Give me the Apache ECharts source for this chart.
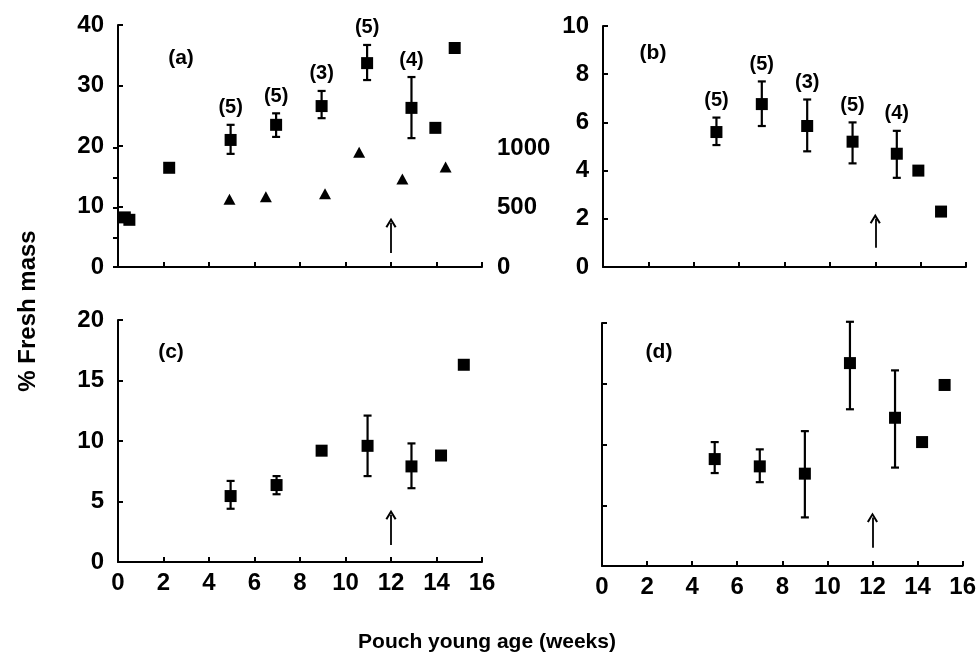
<!DOCTYPE html>
<html>
<head>
<meta charset="utf-8">
<script src="https://cdn.jsdelivr.net/npm/echarts@6/dist/echarts.min.js"></script>
<style>html,body{margin:0;padding:0;background:#fff}#c{width:979px;height:658px}</style>
</head>
<body>
<div id="c"></div>
<script>
// ---------- DATA ----------
// Panel (a): % fresh mass (squares, left axis)
const aWeeks = [0.3, 0.5, 2.25, 4.95, 6.95, 8.95, 10.95, 12.9, 13.95, 14.8];
const aMean  = [8.2, 7.8, 16.4, 21.0, 23.5, 26.6, 33.7, 26.3, 23.0, 36.2];
const aLow   = [null, null, null, 18.7, 21.5, 24.6, 30.9, 21.3, null, null];
const aHigh  = [null, null, null, 23.5, 25.4, 29.1, 36.7, 31.4, null, null];
const aN     = [null, null, null, 5, 5, 3, 5, 4, null, null];
// Panel (a): triangles (right axis, 0-1000)
const tWeeks = [4.9, 6.5, 9.1, 10.6, 12.5, 14.4];
const tVal   = [570, 590, 615, 965, 740, 840];
// Panel (b)
const bWeeks = [5.0, 7.0, 9.0, 11.0, 12.95, 13.9, 14.9];
const bMean  = [5.6, 6.76, 5.85, 5.2, 4.7, 4.0, 2.3];
const bLow   = [5.06, 5.85, 4.8, 4.3, 3.7, null, null];
const bHigh  = [6.2, 7.7, 6.95, 6.0, 5.65, null, null];
const bN     = [5, 5, 3, 5, 4, null, null];
// Panel (c)
const cWeeks = [4.95, 6.97, 8.95, 10.97, 12.9, 14.2, 15.2];
const cMean  = [5.45, 6.36, 9.2, 9.6, 7.9, 8.8, 16.3];
const cLow   = [4.4, 5.6, null, 7.1, 6.1, null, null];
const cHigh  = [6.7, 7.1, null, 12.1, 9.8, null, null];
// Panel (d) (unlabelled axis, 4 intervals)
const dWeeks = [5.0, 7.0, 9.0, 11.0, 13.0, 14.2, 15.2];
const dMean  = [8.8, 8.2, 7.6, 16.7, 12.2, 10.2, 14.9];
const dLow   = [7.65, 6.9, 4.0, 12.9, 8.1, null, null];
const dHigh  = [10.2, 9.6, 11.1, 20.1, 16.1, null, null];
// Arrows at 12 weeks: [from, to] in each panel's y units
const arrowWeek = 12;
const arrowFrom = [2.3, 0.8, 1.4, 1.5];
const arrowTo   = [7.3, 2.0, 3.9, 4.0];
// Axis ranges
const yMax = [40, 10, 20, 20];
const yInt = [10, 2, 5, 5];
const xTicks = [0, 2, 4, 6, 8, 10, 12, 14, 16];

// ---------- CHART ----------
const FONT = '"Liberation Sans", Arial, sans-serif';
const black = '#000';
const chart = echarts.init(document.getElementById('c'), null, {renderer: 'canvas'});

const grids = [
  {left: 118, top: 25, width: 364, height: 242},
  {left: 118, top: 148, width: 364, height: 119},
  {left: 603, top: 26, width: 363, height: 241},
  {left: 118, top: 320, width: 364, height: 242},
  {left: 602, top: 323, width: 361, height: 243}
];

function xAxis(gi, showLabels, show) {
  return {
    type: 'value', gridIndex: gi, min: xTicks[0], max: xTicks[xTicks.length - 1],
    interval: xTicks[1] - xTicks[0], show: show,
    axisLine: {show: true, lineStyle: {color: black, width: 2}},
    axisTick: {show: true, inside: true, length: 5, lineStyle: {color: black, width: 2}},
    splitLine: {show: false},
    axisLabel: {show: showLabels, color: black, fontFamily: FONT, fontWeight: 'bold', fontSize: 24, margin: 9}
  };
}
function yAxis(gi, max, interval, showLabels) {
  return {
    type: 'value', gridIndex: gi, min: 0, max: max, interval: interval,
    axisLine: {show: true, lineStyle: {color: black, width: 2}},
    axisTick: {show: true, inside: true, length: 5, lineStyle: {color: black, width: 2}},
    splitLine: {show: false},
    axisLabel: {show: showLabels, color: black, fontFamily: FONT, fontWeight: 'bold', fontSize: 24, margin: 14}
  };
}

function squares(ax, xs, ys, arrowIdx) {
  return {
    type: 'scatter', xAxisIndex: ax, yAxisIndex: ax, symbol: 'rect', symbolSize: 12,
    itemStyle: {color: black, opacity: 1}, silent: true, z: 3,
    data: xs.map((x, i) => [x, ys[i]]),
    markLine: {
      silent: true, symbol: ['none', 'path://M5,0 L10,9 L8.4,10 L5,3.6 L1.6,10 L0,9 Z'],
      symbolSize: [11, 10],
      lineStyle: {color: black, width: 1.8, type: 'solid'},
      label: {show: false}, emphasis: {disabled: true},
      data: [[{coord: [arrowWeek, arrowFrom[arrowIdx]]}, {coord: [arrowWeek, arrowTo[arrowIdx]]}]]
    }
  };
}

function errbars(ax, xs, lo, hi, ns) {
  const data = [];
  xs.forEach((x, i) => { if (lo[i] != null) data.push([x, lo[i], hi[i], ns ? ns[i] : 0]); });
  return {
    type: 'custom', xAxisIndex: ax, yAxisIndex: ax, silent: true, z: 2,
    encode: {x: 0, y: [1, 2]},
    data: data,
    renderItem: function (params, api) {
      const x = api.value(0);
      const p1 = api.coord([x, api.value(1)]);
      const p2 = api.coord([x, api.value(2)]);
      const n = api.value(3);
      const cw = 4;
      const st = {stroke: black, lineWidth: 2.2};
      const ch = [
        {type: 'line', shape: {x1: p1[0], y1: p1[1], x2: p2[0], y2: p2[1]}, style: st},
        {type: 'line', shape: {x1: p1[0] - cw, y1: p1[1], x2: p1[0] + cw, y2: p1[1]}, style: st},
        {type: 'line', shape: {x1: p2[0] - cw, y1: p2[1], x2: p2[0] + cw, y2: p2[1]}, style: st}
      ];
      if (n) {
        ch.push({type: 'text', style: {text: '(' + n + ')', x: p2[0], y: p2[1] - 7,
          textAlign: 'center', textVerticalAlign: 'bottom', fill: black,
          font: 'bold 20px ' + FONT}});
      }
      return {type: 'group', children: ch};
    }
  };
}

const secY = {
  type: 'value', gridIndex: 1, position: 'right', min: 0, max: 1000, interval: 250,
  axisLine: {show: true, lineStyle: {color: black, width: 2}},
  axisTick: {show: true, inside: true, length: 5, lineStyle: {color: black, width: 2}},
  splitLine: {show: false},
  axisLabel: {color: black, fontFamily: FONT, fontWeight: 'bold', fontSize: 24, margin: 15,
    formatter: v => (v % 500 === 0 ? String(v) : '')}
};

function txt(text, x, y, size, rot) {
  return {type: 'text', x: x, y: y, rotation: rot || 0, silent: true,
    style: {text: text, fill: black, font: 'bold ' + size + 'px ' + FONT,
      textAlign: 'center', textVerticalAlign: 'middle'}};
}

const option = {
  animation: false,
  backgroundColor: '#fff',
  grid: grids,
  xAxis: [xAxis(0, false, true), xAxis(1, false, false), xAxis(2, false, true), xAxis(3, true, true), xAxis(4, true, true)],
  yAxis: [yAxis(0, yMax[0], yInt[0], true), secY, yAxis(2, yMax[1], yInt[1], true),
          yAxis(3, yMax[2], yInt[2], true), yAxis(4, yMax[3], yInt[3], false)],
  series: [
    squares(0, aWeeks, aMean, 0),
    errbars(0, aWeeks, aLow, aHigh, aN),
    {type: 'scatter', xAxisIndex: 1, yAxisIndex: 1, symbol: 'triangle', symbolSize: [12, 11],
     itemStyle: {color: black, opacity: 1}, silent: true, data: tWeeks.map((x, i) => [x, tVal[i]])},
    squares(2, bWeeks, bMean, 1),
    errbars(2, bWeeks, bLow, bHigh, bN),
    squares(3, cWeeks, cMean, 2),
    errbars(3, cWeeks, cLow, cHigh, null),
    squares(4, dWeeks, dMean, 3),
    errbars(4, dWeeks, dLow, dHigh, null)
  ],
  graphic: [
    txt('(a)', 181, 58, 21), txt('(b)', 653, 53, 21), txt('(c)', 171, 352, 21), txt('(d)', 659, 352, 21),
    txt('% Fresh mass', 28, 311, 24, Math.PI / 2),
    txt('Pouch young age (weeks)', 487, 642, 21)
  ]
};
chart.setOption(option);
</script>
</body>
</html>
